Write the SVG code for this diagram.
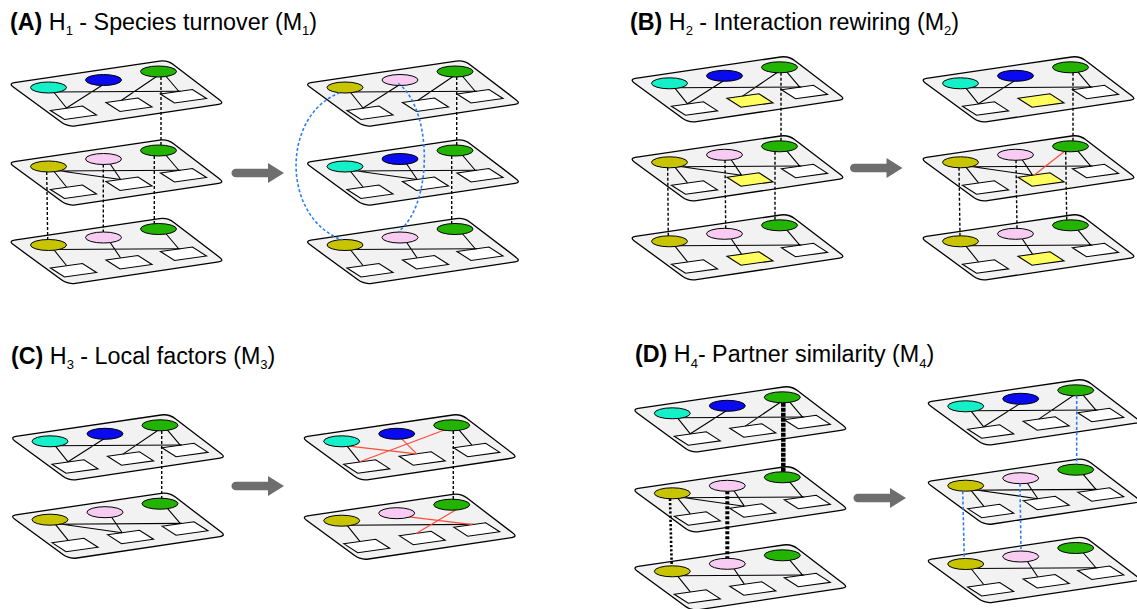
<svg xmlns="http://www.w3.org/2000/svg" xmlns:xlink="http://www.w3.org/1999/xlink" width="1137" height="609" viewBox="0 0 1137 609">
<style>
.title{font-family:"Liberation Sans",Arial,sans-serif;font-size:23.3px;fill:#000}
.b{font-weight:bold}
.sub{font-size:13px}
.plane{fill:#f2f2f2;stroke:#000;stroke-width:1.3}
.box{fill:#ffffff;stroke:#000;stroke-width:1.1}
.boxY{fill:#ffff5e;stroke:#000;stroke-width:1.1}
.ln{fill:none;stroke:#000;stroke-width:1.1}
.red{fill:none;stroke:#ff4a3a;stroke-width:1.2}
.nd{stroke:#000;stroke-width:1}
.cy{fill:#14f0c8}.bl{fill:#0a0af0}.gr{fill:#22b400}.ol{fill:#c8c400}.pk{fill:#f8ccf2}
.dot{fill:none;stroke:#000;stroke-width:1.4;stroke-dasharray:3,2}
.bdot{fill:none;stroke:#2a7ef0;stroke-width:1.6;stroke-dasharray:3,2.2}
.arrow{fill:#6e6e6e}
</style>
<defs>
<path id="plane" class="plane" d="M4.9,-0.9 L150.1,-22.3 Q158,-23.5 164.4,-18.6 L210.2,16.4 Q215,20 209.1,20.9 L65.9,42.3 Q58,43.5 51.6,38.6 L3.8,3.6 Q-1,0 4.9,-0.9 Z"/>
<polygon id="box" class="box" points="0,0 32,-4.5 46,4.5 14,9"/>
<polygon id="boxY" class="boxY" points="0,0 32,-4.5 46,4.5 14,9"/>
<path id="arr" class="arrow" d="M4.3,-4.3 L36.5,-4.3 L36.5,-10 L52.5,0 L36.5,10 L36.5,4.3 L4.3,4.3 A4.3,4.3 0 0 1 4.3,-4.3 Z"/>
</defs>

<!-- Titles -->
<text class="title" x="10" y="29.5"><tspan class="b">(A)</tspan> H<tspan class="sub" dy="5.5">1</tspan><tspan dy="-5.5"> - Species turnover (M</tspan><tspan class="sub" dy="5.5">1</tspan><tspan dy="-5.5">)</tspan></text>
<text class="title" x="630" y="29.5"><tspan class="b">(B)</tspan> H<tspan class="sub" dy="5.5">2</tspan><tspan dy="-5.5"> - Interaction rewiring (M</tspan><tspan class="sub" dy="5.5">2</tspan><tspan dy="-5.5">)</tspan></text>
<text class="title" x="11" y="363.5"><tspan class="b">(C)</tspan> H<tspan class="sub" dy="5.5">3</tspan><tspan dy="-5.5"> - Local factors (M</tspan><tspan class="sub" dy="5.5">3</tspan><tspan dy="-5.5">)</tspan></text>
<text class="title" x="635" y="362"><tspan class="b">(D)</tspan> H<tspan class="sub" dy="5.5">4</tspan><tspan dy="-5.5">- Partner similarity (M</tspan><tspan class="sub" dy="5.5">4</tspan><tspan dy="-5.5">)</tspan></text>

<!-- Arrows -->
<g id="arrows">
<use href="#arr" x="231.5" y="173"/>
<use href="#arr" x="850" y="168"/>
<use href="#arr" x="231.5" y="486"/>
<use href="#arr" x="853.5" y="498"/>
</g>

<!-- Panel A left -->
<g id="A-left-top" transform="translate(9.5,83.5)">
<use href="#plane"/><use href="#box" x="41" y="27"/><use href="#box" x="96.5" y="19"/><use href="#box" x="151" y="10.5"/>
<path class="ln" d="M43,7L57,24.5M42,8.5L171,7.7M97,-1L57,24.5M150,-9L112,16.8M155,-9L169,7.5"/>
<ellipse class="nd cy" cx="39" cy="4" rx="18" ry="5.5"/><ellipse class="nd bl" cx="94" cy="-3.5" rx="18" ry="5.5"/><ellipse class="nd gr" cx="149" cy="-12" rx="18" ry="5.5"/>
</g>
<g id="A-left-mid" transform="translate(9.5,162.5)">
<use href="#plane"/><use href="#box" x="41" y="27"/><use href="#box" x="96.5" y="19"/><use href="#box" x="151" y="10.5"/>
<path class="ln" d="M43,7L57,24.5M42,8.5L171,7.7M44,7.5L111,17M99,-1L111,16.8M155,-9L169,7.5"/>
<ellipse class="nd ol" cx="39" cy="4" rx="18" ry="5.5"/><ellipse class="nd pk" cx="94" cy="-3.5" rx="18" ry="5.5"/><ellipse class="nd gr" cx="149" cy="-12" rx="18" ry="5.5"/>
</g>
<g id="A-left-bot" transform="translate(9.5,241)">
<use href="#plane"/><use href="#box" x="41" y="27"/><use href="#box" x="96.5" y="19"/><use href="#box" x="151" y="10.5"/>
<path class="ln" d="M43,7L57,24.5M42,8.5L171,7.7M99,-1L111,16.8M155,-9L169,7.5"/>
<ellipse class="nd ol" cx="39" cy="4" rx="18" ry="5.5"/><ellipse class="nd pk" cx="94" cy="-3.5" rx="18" ry="5.5"/><ellipse class="nd gr" cx="149" cy="-12" rx="18" ry="5.5"/>
</g>

<!-- Panel A right -->
<g id="A-right-top" transform="translate(306,83.5)">
<use href="#plane"/><use href="#box" x="41" y="27"/><use href="#box" x="96.5" y="19"/><use href="#box" x="151" y="10.5"/>
<path class="ln" d="M43,7L57,24.5M42,8.5L171,7.7M97,-1L57,24.5M150,-9L112,16.8M155,-9L169,7.5"/>
<ellipse class="nd ol" cx="39" cy="4" rx="18" ry="5.5"/><ellipse class="nd pk" cx="94" cy="-3.5" rx="18" ry="5.5"/><ellipse class="nd gr" cx="149" cy="-12" rx="18" ry="5.5"/>
</g>
<g id="A-right-mid" transform="translate(306,162.5)">
<use href="#plane"/><use href="#box" x="41" y="27"/><use href="#box" x="96.5" y="19"/><use href="#box" x="151" y="10.5"/>
<path class="ln" d="M43,7L57,24.5M42,8.5L171,7.7M44,7.5L111,17M99,-1L111,16.8M155,-9L169,7.5"/>
<ellipse class="nd cy" cx="39" cy="4" rx="18" ry="5.5"/><ellipse class="nd bl" cx="94" cy="-3.5" rx="18" ry="5.5"/><ellipse class="nd gr" cx="149" cy="-12" rx="18" ry="5.5"/>
</g>
<g id="A-right-bot" transform="translate(306,241)">
<use href="#plane"/><use href="#box" x="41" y="27"/><use href="#box" x="96.5" y="19"/><use href="#box" x="151" y="10.5"/>
<path class="ln" d="M43,7L57,24.5M42,8.5L171,7.7M99,-1L111,16.8M155,-9L169,7.5"/>
<ellipse class="nd ol" cx="39" cy="4" rx="18" ry="5.5"/><ellipse class="nd pk" cx="94" cy="-3.5" rx="18" ry="5.5"/><ellipse class="nd gr" cx="149" cy="-12" rx="18" ry="5.5"/>
</g>

<!-- Panel B left -->
<g id="B-left-top" transform="translate(630.5,79.3)">
<use href="#plane"/><use href="#box" x="41" y="27"/><use href="#boxY" x="96.5" y="19"/><use href="#box" x="151" y="10.5"/>
<path class="ln" d="M43,7L57,24.5M42,8.5L171,7.7M97,-1L57,24.5M150,-9L112,16.8M155,-9L169,7.5"/>
<ellipse class="nd cy" cx="39" cy="4" rx="18" ry="5.5"/><ellipse class="nd bl" cx="94" cy="-3.5" rx="18" ry="5.5"/><ellipse class="nd gr" cx="149" cy="-12" rx="18" ry="5.5"/>
</g>
<g id="B-left-mid" transform="translate(630.5,158.3)">
<use href="#plane"/><use href="#box" x="41" y="27"/><use href="#boxY" x="96.5" y="19"/><use href="#box" x="151" y="10.5"/>
<path class="ln" d="M43,7L57,24.5M42,8.5L171,7.7M44,7.5L111,17M99,-1L111,16.8M155,-9L169,7.5"/>
<ellipse class="nd ol" cx="39" cy="4" rx="18" ry="5.5"/><ellipse class="nd pk" cx="94" cy="-3.5" rx="18" ry="5.5"/><ellipse class="nd gr" cx="149" cy="-12" rx="18" ry="5.5"/>
</g>
<g id="B-left-bot" transform="translate(630.5,237.3)">
<use href="#plane"/><use href="#box" x="41" y="27"/><use href="#boxY" x="96.5" y="19"/><use href="#box" x="151" y="10.5"/>
<path class="ln" d="M43,7L57,24.5M42,8.5L171,7.7M99,-1L111,16.8M155,-9L169,7.5"/>
<ellipse class="nd ol" cx="39" cy="4" rx="18" ry="5.5"/><ellipse class="nd pk" cx="94" cy="-3.5" rx="18" ry="5.5"/><ellipse class="nd gr" cx="149" cy="-12" rx="18" ry="5.5"/>
</g>

<!-- Panel B right -->
<g id="B-right-top" transform="translate(921.5,79.3)">
<use href="#plane"/><use href="#box" x="41" y="27"/><use href="#boxY" x="96.5" y="19"/><use href="#box" x="151" y="10.5"/>
<path class="ln" d="M43,7L57,24.5M42,8.5L171,7.7M97,-1L57,24.5M155,-9L169,7.5"/>
<ellipse class="nd cy" cx="39" cy="4" rx="18" ry="5.5"/><ellipse class="nd bl" cx="94" cy="-3.5" rx="18" ry="5.5"/><ellipse class="nd gr" cx="149" cy="-12" rx="18" ry="5.5"/>
</g>
<g id="B-right-mid" transform="translate(921.5,158.3)">
<use href="#plane"/><use href="#box" x="41" y="27"/><use href="#boxY" x="96.5" y="19"/><use href="#box" x="151" y="10.5"/>
<path class="ln" d="M43,7L57,24.5M42,8.5L171,7.7M44,7.5L111,17M99,-1L111,16.8M155,-9L169,7.5"/>
<path class="red" d="M147,-10L112.5,17"/>
<ellipse class="nd ol" cx="39" cy="4" rx="18" ry="5.5"/><ellipse class="nd pk" cx="94" cy="-3.5" rx="18" ry="5.5"/><ellipse class="nd gr" cx="149" cy="-12" rx="18" ry="5.5"/>
</g>
<g id="B-right-bot" transform="translate(921.5,237.3)">
<use href="#plane"/><use href="#box" x="41" y="27"/><use href="#boxY" x="96.5" y="19"/><use href="#box" x="151" y="10.5"/>
<path class="ln" d="M43,7L57,24.5M42,8.5L171,7.7M99,-1L111,16.8M155,-9L169,7.5"/>
<ellipse class="nd ol" cx="39" cy="4" rx="18" ry="5.5"/><ellipse class="nd pk" cx="94" cy="-3.5" rx="18" ry="5.5"/><ellipse class="nd gr" cx="149" cy="-12" rx="18" ry="5.5"/>
</g>

<!-- Panel C left -->
<g id="C-left-top" transform="translate(11,437.3)">
<use href="#plane"/><use href="#box" x="41" y="27"/><use href="#box" x="96.5" y="19"/><use href="#box" x="151" y="10.5"/>
<path class="ln" d="M43,7L57,24.5M42,8.5L171,7.7M97,-1L57,24.5M150,-9L112,16.8M155,-9L169,7.5"/>
<ellipse class="nd cy" cx="39" cy="4" rx="18" ry="5.5"/><ellipse class="nd bl" cx="94" cy="-3.5" rx="18" ry="5.5"/><ellipse class="nd gr" cx="149" cy="-12" rx="18" ry="5.5"/>
</g>
<g id="C-left-bot" transform="translate(11,515.7)">
<use href="#plane"/><use href="#box" x="41" y="27"/><use href="#box" x="96.5" y="19"/><use href="#box" x="151" y="10.5"/>
<path class="ln" d="M43,7L57,24.5M42,8.5L171,7.7M44,7.5L111,17M99,-1L111,16.8M155,-9L169,7.5"/>
<ellipse class="nd ol" cx="39" cy="4" rx="18" ry="5.5"/><ellipse class="nd pk" cx="94" cy="-3.5" rx="18" ry="5.5"/><ellipse class="nd gr" cx="149" cy="-12" rx="18" ry="5.5"/>
</g>

<!-- Panel C right -->
<g id="C-right-top" transform="translate(302.7,437.3)">
<use href="#plane"/><use href="#box" x="41" y="27"/><use href="#box" x="96.5" y="19"/><use href="#box" x="151" y="10.5"/>
<path class="ln" d="M43,7L57,24.5M155,-9L169,7.5"/>
<path class="red" d="M44,8.5L114,16.6M94,-3.5L114,16.6M149,-10L57,24.5"/>
<ellipse class="nd cy" cx="39" cy="4" rx="18" ry="5.5"/><ellipse class="nd bl" cx="94" cy="-3.5" rx="18" ry="5.5"/><ellipse class="nd gr" cx="149" cy="-12" rx="18" ry="5.5"/>
</g>
<g id="C-right-bot" transform="translate(302.7,516.7)">
<use href="#plane"/><use href="#box" x="41" y="27"/><use href="#box" x="96.5" y="19"/><use href="#box" x="151" y="10.5"/>
<path class="ln" d="M43,7L57,24.5M42,8.5L171,7.7"/>
<path class="red" d="M96,-1L170,8M155,-8L113,17"/>
<ellipse class="nd ol" cx="39" cy="4" rx="18" ry="5.5"/><ellipse class="nd pk" cx="94" cy="-3.5" rx="18" ry="5.5"/><ellipse class="nd gr" cx="149" cy="-12" rx="18" ry="5.5"/>
</g>

<!-- Panel D left -->
<g id="D-left-top" transform="translate(633.3,409.3)">
<use href="#plane"/><use href="#box" x="41" y="27"/><use href="#box" x="96.5" y="19"/><use href="#box" x="151" y="10.5"/>
<path class="ln" d="M43,7L57,24.5M42,8.5L171,7.7M97,-1L57,24.5M150,-9L112,16.8M155,-9L169,7.5"/>
<ellipse class="nd cy" cx="39" cy="4" rx="18" ry="5.5"/><ellipse class="nd bl" cx="94" cy="-3.5" rx="18" ry="5.5"/><ellipse class="nd gr" cx="149" cy="-12" rx="18" ry="5.5"/>
</g>
<g id="D-left-mid" transform="translate(633.3,489.3)">
<use href="#plane"/><use href="#box" x="41" y="27"/><use href="#box" x="96.5" y="19"/><use href="#box" x="151" y="10.5"/>
<path class="ln" d="M43,7L57,24.5M42,8.5L171,7.7M44,7.5L111,17M99,-1L111,16.8M155,-9L169,7.5"/>
<ellipse class="nd ol" cx="39" cy="4" rx="18" ry="5.5"/><ellipse class="nd pk" cx="94" cy="-3.5" rx="18" ry="5.5"/><ellipse class="nd gr" cx="149" cy="-12" rx="18" ry="5.5"/>
</g>
<g id="D-left-bot" transform="translate(633.3,567.3)">
<use href="#plane"/><use href="#box" x="41" y="27"/><use href="#box" x="96.5" y="19"/><use href="#box" x="151" y="10.5"/>
<path class="ln" d="M43,7L57,24.5M42,8.5L171,7.7M99,-1L111,16.8M155,-9L169,7.5"/>
<ellipse class="nd ol" cx="39" cy="4" rx="18" ry="5.5"/><ellipse class="nd pk" cx="94" cy="-3.5" rx="18" ry="5.5"/><ellipse class="nd gr" cx="149" cy="-12" rx="18" ry="5.5"/>
</g>

<!-- Panel D right -->
<g id="D-right-top" transform="translate(926.7,402.3)">
<use href="#plane"/><use href="#box" x="41" y="27"/><use href="#box" x="96.5" y="19"/><use href="#box" x="151" y="10.5"/>
<path class="ln" d="M43,7L57,24.5M42,8.5L171,7.7M97,-1L57,24.5M150,-9L112,16.8M155,-9L169,7.5"/>
<ellipse class="nd cy" cx="39" cy="4" rx="18" ry="5.5"/><ellipse class="nd bl" cx="94" cy="-3.5" rx="18" ry="5.5"/><ellipse class="nd gr" cx="149" cy="-12" rx="18" ry="5.5"/>
</g>
<g id="D-right-mid" transform="translate(926.7,481.7)">
<use href="#plane"/><use href="#box" x="41" y="27"/><use href="#box" x="96.5" y="19"/><use href="#box" x="151" y="10.5"/>
<path class="ln" d="M43,7L57,24.5M42,8.5L171,7.7M44,7.5L111,17M99,-1L111,16.8M155,-9L169,7.5"/>
<ellipse class="nd ol" cx="39" cy="4" rx="18" ry="5.5"/><ellipse class="nd pk" cx="94" cy="-3.5" rx="18" ry="5.5"/><ellipse class="nd gr" cx="149" cy="-12" rx="18" ry="5.5"/>
</g>
<g id="D-right-bot" transform="translate(926.7,560)">
<use href="#plane"/><use href="#box" x="41" y="27"/><use href="#box" x="96.5" y="19"/><use href="#box" x="151" y="10.5"/>
<path class="ln" d="M43,7L57,24.5M42,8.5L171,7.7M99,-1L111,16.8M155,-9L169,7.5"/>
<ellipse class="nd ol" cx="39" cy="4" rx="18" ry="5.5"/><ellipse class="nd pk" cx="94" cy="-3.5" rx="18" ry="5.5"/><ellipse class="nd gr" cx="149" cy="-12" rx="18" ry="5.5"/>
</g>

<!-- Connectors between layers -->
<g id="connectors">
<path class="dot" d="M161,77V145M46.7,172L47.7,239.5M103.3,164.5V232M154.3,156V223.5"/>
<path class="dot" d="M456.7,77V145M451.7,156V223.5"/>
<path class="bdot" d="M340,92.7C281,115 281,218 342.5,240"/>
<path class="bdot" d="M398.3,83.3C433,110 433,205 398.3,231.7"/>
<path class="dot" d="M781,72.8V140.8M667.7,167.8L668.3,235.8M725,160.3L725.7,228.3M775,151.8V219.8"/>
<path class="dot" d="M1073,72.8V140.8M959,167.8L960,235.8M1016,160.3L1017,228.3M1065.7,151.8L1066.7,219.8"/>
<path class="dot" d="M161.7,431V498.2"/>
<path class="dot" d="M453.3,431V499.2"/>
<path fill="none" stroke="#000" stroke-width="4.5" stroke-dasharray="4,1" d="M783.3,402.8V471.8"/>
<path fill="none" stroke="#000" stroke-width="4" stroke-dasharray="3,2" d="M727.3,491.3V558.3"/>
<path fill="none" stroke="#000" stroke-width="2.6" stroke-dasharray="2.2,2" d="M670,498.8L671.7,565.8"/>
<path class="bdot" d="M1076.7,395.8V464.2M962.7,491.2L964.3,558.5M1020,483.7L1021,551"/>
</g>
</svg>
